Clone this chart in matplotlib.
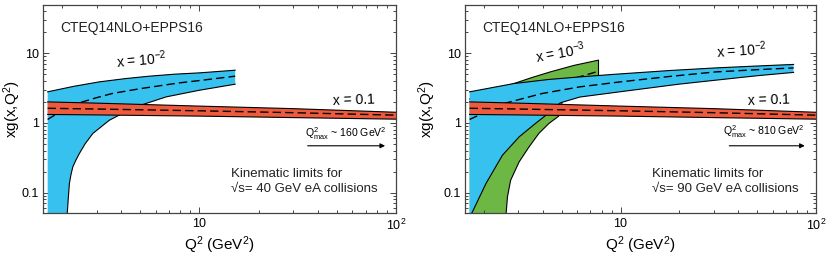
import matplotlib
matplotlib.use("Agg")
import matplotlib.pyplot as plt
from matplotlib.ticker import FixedLocator, FixedFormatter, NullFormatter, LogLocator

plt.rcParams["font.family"] = ["Liberation Sans", "DejaVu Sans"]
plt.rcParams["mathtext.fontset"] = "custom"
plt.rcParams["mathtext.rm"] = "Liberation Sans"
plt.rcParams["mathtext.it"] = "Liberation Sans"
plt.rcParams["mathtext.bf"] = "Liberation Sans:bold"
plt.rcParams["mathtext.default"] = "regular"

BLUE = "#37c1ef"
RED = "#ee5a3d"
GREEN = "#6db845"

# x = 0.1 band (same in both panels)
q2_x1 = [1.69, 3.0, 10.0, 30.0, 100.0]
x1_hi = [2.0, 1.92, 1.74, 1.60, 1.42]
x1_mid = [1.62, 1.58, 1.49, 1.40, 1.29]
x1_lo = [1.32, 1.30, 1.25, 1.19, 1.13]

# x = 1e-2 band, sqrt(s) = 40 GeV (left)
L_q2_hi = [1.69, 2.3, 3.1, 4.2, 5.56, 7.5, 10.0, 15.2]
L_hi = [2.79, 3.35, 3.88, 4.32, 4.68, 5.0, 5.22, 5.70]
L_q2_mid = [1.69, 2.0, 2.45, 3.0, 3.6, 5.0, 7.9, 10.0, 15.2]
L_mid = [1.12, 1.50, 1.94, 2.30, 2.64, 3.10, 3.75, 4.05, 4.68]
L_q2_lo = [2.12, 2.15, 2.18, 2.22, 2.27, 2.35, 2.45, 2.62, 2.87, 3.1, 3.48, 3.9,
           5.05, 6.77, 10.0, 15.2]
L_lo = [0.045, 0.08, 0.135, 0.18, 0.234, 0.29, 0.363, 0.50, 0.705, 0.84, 1.09, 1.29,
        1.80, 2.36, 2.94, 3.59]

# x = 1e-2 band, sqrt(s) = 90 GeV (right)
R_q2_hi = [1.69, 2.85, 4.3, 6.2, 9.5, 18.0, 30.7, 50.0, 76.8]
R_hi = [2.79, 3.67, 4.20, 4.57, 5.0, 5.65, 6.15, 6.55, 6.9]
R_q2_mid = [1.69, 2.54, 3.97, 6.2, 10.0, 18.0, 30.7, 50.0, 76.8]
R_mid = [1.12, 1.90, 2.64, 3.29, 3.88, 4.65, 5.39, 5.80, 6.15]
R_q2_lo = [1.70, 2.05, 2.49, 3.03, 3.67, 4.1, 4.92, 6.2, 10.0, 20.0, 30.7, 50.0, 76.8]
R_lo = [0.045, 0.135, 0.344, 0.63, 0.98, 1.25, 1.94, 2.35, 2.80, 3.6, 4.1, 4.75, 5.3]

# x = 1e-3 band, sqrt(s) = 90 GeV (right)
G_q2_hi = [1.69, 2.85, 3.5, 4.37, 5.8, 7.7]
G_hi = [2.2, 3.67, 4.45, 5.39, 6.7, 7.94]
G_q2_mid = [1.69, 2.5, 3.5, 5.0, 6.2, 7.7]
G_mid = [0.3, 1.2, 2.6, 3.9, 4.6, 5.5]
G_q2_lo = [2.59, 2.64, 2.74, 3.03, 3.4, 3.82, 4.3, 4.83, 5.05, 6.0, 7.7]
G_lo = [0.045, 0.087, 0.15, 0.276, 0.45, 0.705, 0.98, 1.25, 2.1, 2.8, 3.6]

Q2_MIN = 1.69


def band(ax, q_lo, lo, q_mid, mid, q_hi, hi, color, z, low_start=None):
    xs = list(q_lo) + list(q_hi[::-1])
    ys = list(lo) + list(hi[::-1])
    if low_start is not None:
        xs = [low_start] + xs
        ys = [0.04] + ys
    ax.fill(xs, ys, color=color, lw=0, zorder=z)
    ax.plot(q_hi, hi, color="k", lw=0.8, zorder=z + 0.1)
    ax.plot(q_lo, lo, color="k", lw=0.8, zorder=z + 0.1)
    ax.plot(q_mid, mid, color="k", lw=1.0, dashes=(6, 3), zorder=z + 0.1)


def setup(ax, ylab_x):
    ax.set_xscale("log")
    ax.set_yscale("log")
    ax.set_xlim(1.6, 100)
    ax.set_ylim(0.05, 50)
    ax.xaxis.set_major_locator(FixedLocator([10, 100]))
    ax.xaxis.set_major_formatter(FixedFormatter(["10", "10$^2$"]))
    ax.xaxis.set_minor_locator(LogLocator(base=10, subs=range(2, 10)))
    ax.xaxis.set_minor_formatter(NullFormatter())
    ax.yaxis.set_major_locator(FixedLocator([0.1, 1, 10]))
    ax.yaxis.set_major_formatter(FixedFormatter(["0.1", "1", "10"]))
    ax.yaxis.set_minor_locator(LogLocator(base=10, subs=range(2, 10)))
    ax.yaxis.set_minor_formatter(NullFormatter())
    ax.tick_params(which="both", direction="in", top=True, right=True,
                   labelsize=9, color="#444444", width=0.7, pad=3)
    ax.tick_params(which="major", length=4)
    ax.tick_params(which="minor", length=2.2)
    for s in ax.spines.values():
        s.set_color("#444444")
        s.set_linewidth(0.9)
    ax.set_xlabel("Q$^2$ (GeV$^2$)", fontsize=11, labelpad=1)
    ax.set_ylabel("xg(x,Q$^2$)", fontsize=11)
    ax.yaxis.set_label_coords(ylab_x, 0.5)
    ax.text(0.05, 0.886, "CTEQ14NLO+EPPS16", transform=ax.transAxes,
            fontsize=10, ha="left", va="center", color="#222222")


fig = plt.figure(figsize=(8.3, 2.58), dpi=100)
ax1 = fig.add_axes([0.0518, 0.1725, 0.4253, 0.81])
ax2 = fig.add_axes([0.5602, 0.1725, 0.4229, 0.81])

# --- left: sqrt(s) = 40 GeV ---
setup(ax1, -0.058)
band(ax1, L_q2_lo, L_lo, L_q2_mid, L_mid, L_q2_hi, L_hi, BLUE, 2, low_start=Q2_MIN)
band(ax1, q2_x1, x1_lo, q2_x1, x1_mid, q2_x1, x1_hi, RED, 3)
ax1.text(0.21, 0.695, "x = 10$^{-2}$", transform=ax1.transAxes, fontsize=10,
         rotation=5, rotation_mode="anchor", va="baseline")
ax1.text(0.822, 0.519, "x = 0.1", transform=ax1.transAxes, fontsize=10,
         rotation=2, rotation_mode="anchor", va="baseline")
ax1.text(0.742, 0.366, "Q$^2_{max}$ ~ 160 GeV$^2$", transform=ax1.transAxes,
         fontsize=7.6, va="baseline")
ax1.annotate("", xy=(0.977, 0.324), xytext=(0.742, 0.324), xycoords="axes fraction",
             arrowprops=dict(arrowstyle="-|>", color="k", lw=0.8, mutation_scale=7))
ax1.text(0.532, 0.153, "Kinematic limits for\n\u221as= 40 GeV eA collisions",
         transform=ax1.transAxes, fontsize=9.5, va="center", ha="left",
         linespacing=1.25, color="#222222")

# --- right: sqrt(s) = 90 GeV ---
setup(ax2, -0.077)
band(ax2, G_q2_lo, G_lo, G_q2_mid, G_mid, G_q2_hi, G_hi, GREEN, 1, low_start=Q2_MIN)
ax2.plot([G_q2_hi[-1], G_q2_hi[-1]], [G_lo[-1], G_hi[-1]], color="k", lw=0.8, zorder=1.1)
band(ax2, R_q2_lo, R_lo, R_q2_mid, R_mid, R_q2_hi, R_hi, BLUE, 2, low_start=Q2_MIN)
band(ax2, q2_x1, x1_lo, q2_x1, x1_mid, q2_x1, x1_hi, RED, 3)
ax2.text(0.204, 0.719, "x = 10$^{-3}$", transform=ax2.transAxes, fontsize=10,
         rotation=10, rotation_mode="anchor", va="baseline")
ax2.text(0.717, 0.743, "x = 10$^{-2}$", transform=ax2.transAxes, fontsize=10,
         rotation=4, rotation_mode="anchor", va="baseline")
ax2.text(0.807, 0.519, "x = 0.1", transform=ax2.transAxes, fontsize=10,
         rotation=2, rotation_mode="anchor", va="baseline")
ax2.text(0.736, 0.376, "Q$^2_{max}$ ~ 810 GeV$^2$", transform=ax2.transAxes,
         fontsize=7.6, va="baseline")
ax2.annotate("", xy=(0.976, 0.324), xytext=(0.745, 0.324), xycoords="axes fraction",
             arrowprops=dict(arrowstyle="-|>", color="k", lw=0.8, mutation_scale=7))
ax2.text(0.534, 0.153, "Kinematic limits for\n\u221as= 90 GeV eA collisions",
         transform=ax2.transAxes, fontsize=9.5, va="center", ha="left",
         linespacing=1.25, color="#222222")

fig.savefig("out.png", dpi=100)
